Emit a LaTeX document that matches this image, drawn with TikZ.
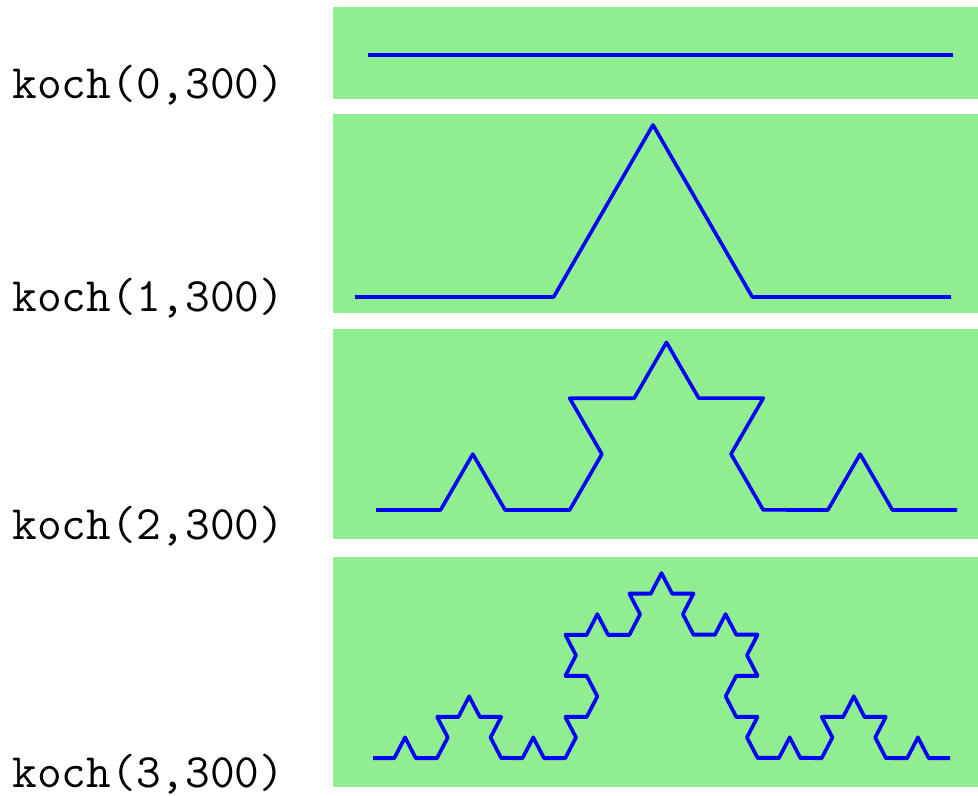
\documentclass[tikz,border=0pt]{standalone}
\usepackage{fontspec}
\usetikzlibrary{decorations.fractals}
\definecolor{kochGreen}{HTML}{90EE90}
\definecolor{kochBlue}{HTML}{0000FF}
\tikzset{
  panel/.style={fill=kochGreen, draw=none},
  curve/.style={
    draw=kochBlue,
    line width=1.8pt,
    line join=round,
    decoration=Koch snowflake
  },
  call/.style={
    anchor=base west,
    inner sep=0pt,
    font=\ttfamily\fontsize{24}{28}\selectfont,
    text=black
  }
}
\begin{document}
\begin{tikzpicture}[x=0.5pt, y=-0.5pt]
  \useasboundingbox (0,0) rectangle (978,796);

  % level 0
  \fill[panel] (333,7) rectangle (978,99);
  \coordinate (a0) at (368,55);
  \coordinate (b0) at (953,55);
  \draw[curve] (a0) -- (b0);
  \node[call] (k0) at (12,99) {koch(0,300)};

  % level 1
  \fill[panel] (333,114) rectangle (978,313);
  \coordinate (a1) at (355,297);
  \coordinate (b1) at (951,297);
  \draw[curve] decorate{(a1) -- (b1)};
  \node[call] (k1) at (12,312) {koch(1,300)};

  % level 2
  \fill[panel] (333,329) rectangle (978,539);
  \coordinate (a2) at (376,510);
  \coordinate (b2) at (957,510);
  \draw[curve] decorate{decorate{(a2) -- (b2)}};
  \node[call] (k2) at (12,539) {koch(2,300)};

  % level 3 (a bit taller than the others)
  \fill[panel] (333,557) rectangle (978,787);
  \begin{scope}[transform canvas={shift={(0,758)}, yscale=1.11}]
    \coordinate (a3) at (373,0);
    \coordinate (b3) at (950,0);
    \draw[curve] decorate{decorate{decorate{(a3) -- (b3)}}};
  \end{scope}
  \node[call] (k3) at (12,787) {koch(3,300)};
\end{tikzpicture}
\end{document}
